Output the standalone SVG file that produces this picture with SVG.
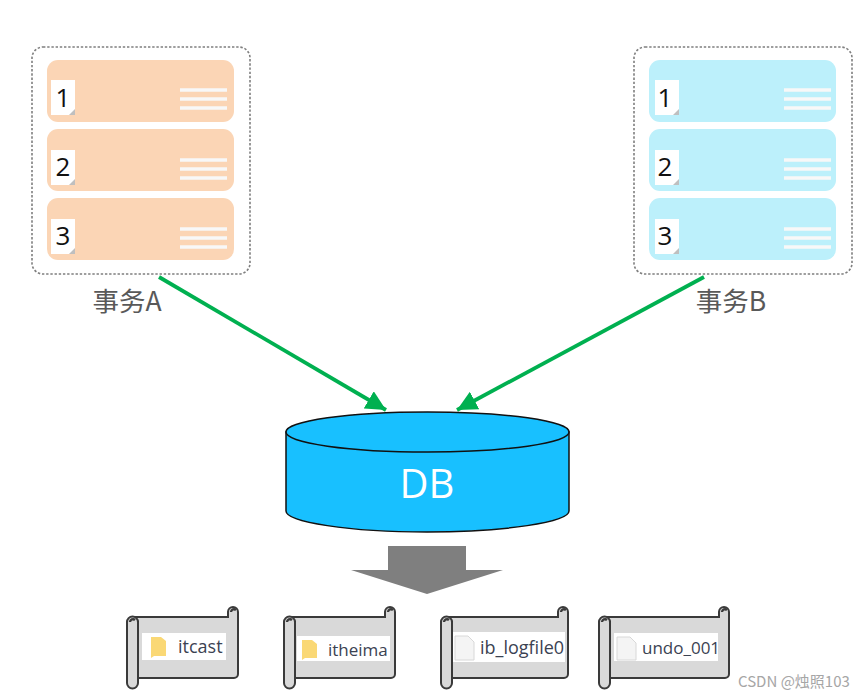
<svg xmlns="http://www.w3.org/2000/svg" xmlns:xlink="http://www.w3.org/1999/xlink" width="865" height="699" viewBox="0 0 865 699">
<style>
.frame{fill:#fff;stroke:#7f7f7f;stroke-width:1.6;stroke-dasharray:2.4 1.8}
.a{fill:#fbd5b5}.b{fill:#bcf0fb}
.ln{stroke:#f8f8f8;stroke-width:3.6}
.num{font:26px "Open Sans","Liberation Sans",sans-serif;fill:#111;text-anchor:middle}
.cap{font:26.500px "Noto Sans CJK SC","Open Sans",sans-serif;fill:#595959;text-anchor:middle}
.con{stroke:#00b050;stroke-width:3.800;fill:none}
.sc{fill:#d9d9d9;stroke:#3a3a3a;stroke-width:2}
.rc{fill:none;stroke:#3a3a3a;stroke-width:2.400}
.fn{font:17px "Open Sans","Liberation Sans",sans-serif;fill:#3b4252}
</style>
<defs>
<marker id="ah" markerUnits="userSpaceOnUse" markerWidth="22" markerHeight="20" refX="20" refY="10" orient="auto"><path d="M0 0L20 10L0 20Z" fill="#00b050"/></marker>
<g id="row"><path class="ln" d="M180 90h47M180 99h47M180 108h47"/><path d="M51 80h24v35h-24z" fill="#fff"/><path d="M69 115l6-6v6z" fill="#bfbfbf"/></g>
</defs>
<rect width="865" height="699" fill="#fff"/>
<g id="connectors">
<line class="con" x1="159" y1="277" x2="386" y2="410" marker-end="url(#ah)"/>
<line class="con" x1="704" y1="277" x2="457" y2="410" marker-end="url(#ah)"/>
</g>
<g id="txA">
<rect class="frame" x="32" y="47" width="218" height="227" rx="11"/>
<rect class="a" x="47" y="60" width="187" height="62" rx="11"/>
<rect class="a" x="47" y="129" width="187" height="62" rx="11"/>
<rect class="a" x="47" y="198" width="187" height="62" rx="11"/>
<use xlink:href="#row"/><use xlink:href="#row" y="70"/><use xlink:href="#row" y="139"/>
<text class="num" x="63" y="107">1</text><text class="num" x="63" y="176">2</text><text class="num" x="63" y="245">3</text>
<text class="cap" x="127" y="311">事务A</text>
</g>
<g id="txB">
<rect class="frame" x="634" y="47" width="218" height="227" rx="11"/>
<rect class="b" x="649" y="60" width="187" height="62" rx="11"/>
<rect class="b" x="649" y="129" width="187" height="62" rx="11"/>
<rect class="b" x="649" y="198" width="187" height="62" rx="11"/>
<use xlink:href="#row" x="604"/><use xlink:href="#row" x="604" y="70"/><use xlink:href="#row" x="604" y="139"/>
<text class="num" x="665" y="107">1</text><text class="num" x="665" y="176">2</text><text class="num" x="665" y="245">3</text>
<text class="cap" x="731" y="311">事务B</text>
</g>
<g id="db">
<path d="M286 432V511C286 522 349 532 427 532S569 522 569 511V432Z" fill="#18c0ff" stroke="#111" stroke-width="1.500"/>
<ellipse cx="427.500" cy="432" rx="141.500" ry="20" fill="#18c0ff" stroke="#111" stroke-width="1.500"/>
<text x="427" y="498" font-family="Open Sans,Liberation Sans,sans-serif" font-size="40" fill="#fff" text-anchor="middle">DB</text>
</g>
<g id="downArrow"><path d="M388 546h78v24h37l-76 24-76-24h37z" fill="#7f7f7f"/></g>
<g id="itcast">
<path class="sc" d="M132 617H228V612A5 5 0 0 1 238 612V674A4 4 0 0 1 234 678H138V622H132Z"/>
<path class="sc" d="M127 622V683A5.500 5.500 0 0 0 138 683V622A5.500 5.500 0 0 0 127 622Z"/>
<path class="rc" d="M130 622A3 3 0 0 1 135 620M231 612A3 3 0 0 1 236 610"/>
<rect x="142" y="633" width="84" height="27" fill="#fff"/><path d="M151 637h10l5 4v15h-12l-3 2z" fill="#fad875"/><text class="fn" x="178" y="653" style="font-size:18px">itcast</text>
</g>
<g id="itheima">
<path class="sc" d="M289 617H385V612A5 5 0 0 1 395 612V674A4 4 0 0 1 391 678H295V622H289Z"/>
<path class="sc" d="M284 622V683A5.500 5.500 0 0 0 295 683V622A5.500 5.500 0 0 0 284 622Z"/>
<path class="rc" d="M287 622A3 3 0 0 1 292 620M388 612A3 3 0 0 1 393 610"/>
<rect x="297" y="636" width="93" height="25" fill="#fff"/><path d="M302 640h10l5 4v14h-12l-3 2z" fill="#fad875"/><text class="fn" x="328" y="656">itheima</text>
</g>
<g id="iblog">
<path class="sc" d="M446 617H558V612A5 5 0 0 1 568 612V674A4 4 0 0 1 564 678H452V622H446Z"/>
<path class="sc" d="M441 622V683A5.500 5.500 0 0 0 452 683V622A5.500 5.500 0 0 0 441 622Z"/>
<path class="rc" d="M444 622A3 3 0 0 1 449 620M561 612A3 3 0 0 1 566 610"/>
<rect x="453" y="632" width="112" height="30" fill="#fff"/><path d="M455 636h13l6 6v18h-19z" fill="#f4f4f4" stroke="#d8d8d8"/><text class="fn" x="480" y="654" style="font-size:18px">ib_logfile0</text>
</g>
<g id="undo">
<path class="sc" d="M604 617H719V612A5 5 0 0 1 729 612V674A4 4 0 0 1 725 678H610V622H604Z"/>
<path class="sc" d="M599 622V683A5.500 5.500 0 0 0 610 683V622A5.500 5.500 0 0 0 599 622Z"/>
<path class="rc" d="M602 622A3 3 0 0 1 607 620M722 612A3 3 0 0 1 727 610"/>
<rect x="614" y="633" width="104" height="28" fill="#fff"/><path d="M617 637h13l6 6v17h-19z" fill="#f4f4f4" stroke="#d8d8d8"/><text class="fn" x="642" y="654">undo_001</text>
</g>
<text x="738" y="687" font-family="Noto Sans CJK SC,Liberation Sans,sans-serif" font-size="15" fill="#a6a6a6">CSDN @烛照103</text>
</svg>
